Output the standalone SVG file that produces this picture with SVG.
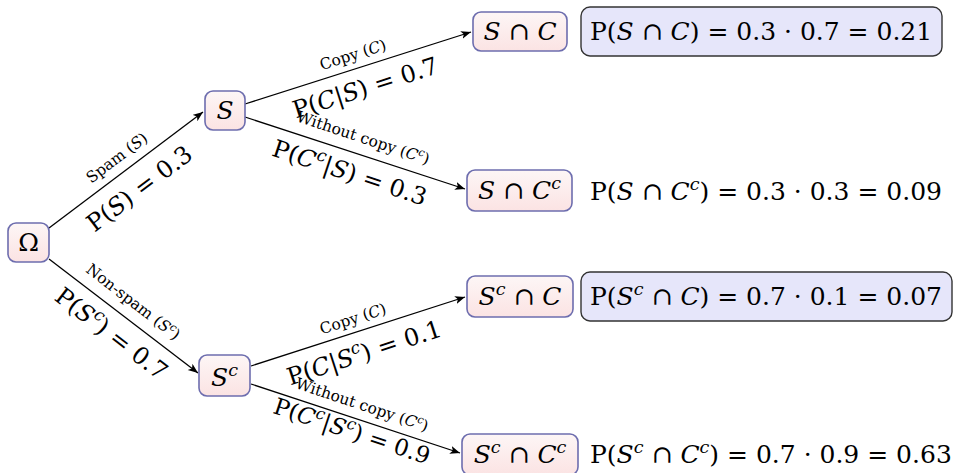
<svg xmlns="http://www.w3.org/2000/svg" width="955" height="473" viewBox="0 0 955 473">
<defs>
<linearGradient id="ng" x1="0" y1="0" x2="0" y2="1">
<stop offset="0" stop-color="#fdf6f6"/>
<stop offset="1" stop-color="#fbe3e3"/>
</linearGradient>
<marker id="arr" markerUnits="userSpaceOnUse" markerWidth="12" markerHeight="10" refX="10" refY="4" orient="auto">
<path d="M0,0 L10,4 L0,8 L2.5,4 Z" fill="#000"/>
</marker>
</defs>
<style>
text{font-family:"DejaVu Serif","Liberation Serif",serif;fill:#000}
.node rect{fill:url(#ng);stroke:#6d6dae;stroke-width:1.6}
.prob rect{fill:#e6e6fa;stroke:#333;stroke-width:1.4}
.nt{font-size:25px;text-anchor:middle}
.pt{font-size:25px}
.sm{font-size:15.5px;text-anchor:middle}
.lg{font-size:24px;text-anchor:middle}
.i{font-style:italic}
.sup{font-size:70%;font-style:italic}
#edges line{stroke:#000;stroke-width:1.3;marker-end:url(#arr)}
</style>

<g id="edges">
<line x1="49" y1="228" x2="203" y2="112"/>
<line x1="49" y1="259" x2="198" y2="373"/>
<line x1="245" y1="104" x2="471" y2="32"/>
<line x1="245" y1="117" x2="465" y2="189"/>
<line x1="251" y1="366" x2="465" y2="297"/>
<line x1="251" y1="384" x2="460" y2="453"/>
</g>

<g id="edge-labels">
<text class="sm" transform="translate(117,158) rotate(-37)" dy="5">Spam (<tspan class="i">S</tspan>)</text>
<text class="lg" transform="translate(139,188) rotate(-37)" dy="9">P(<tspan class="i">S</tspan>) = 0.3</text>
<text class="sm" transform="translate(133,302) rotate(37.6)" dy="5">Non-spam (<tspan class="i">S</tspan><tspan class="sup" baseline-shift="super">c</tspan>)</text>
<text class="lg" transform="translate(112,333) rotate(37.6)" dy="9">P(<tspan class="i">S</tspan><tspan class="sup" baseline-shift="super">c</tspan>) = 0.7</text>
<text class="sm" transform="translate(353,55) rotate(-17.7)" dy="5">Copy (<tspan class="i">C</tspan>)</text>
<text class="lg" transform="translate(365,87) rotate(-17.7)" dy="9">P(<tspan class="i">C</tspan>|<tspan class="i">S</tspan>) = 0.7</text>
<text class="sm" transform="translate(363,138) rotate(18.3)" dy="5">Without copy (<tspan class="i">C</tspan><tspan class="sup" baseline-shift="super">c</tspan>)</text>
<text class="lg" transform="translate(350,172) rotate(18.3)" dy="9">P(<tspan class="i">C</tspan><tspan class="sup" baseline-shift="super">c</tspan>|<tspan class="i">S</tspan>) = 0.3</text>
<text class="sm" transform="translate(353,319) rotate(-18)" dy="5">Copy (<tspan class="i">C</tspan>)</text>
<text class="lg" transform="translate(364,352) rotate(-18)" dy="9">P(<tspan class="i">C</tspan>|<tspan class="i">S</tspan><tspan class="sup" baseline-shift="super">c</tspan>) = 0.1</text>
<text class="sm" transform="translate(362,405) rotate(18.4)" dy="5">Without copy (<tspan class="i">C</tspan><tspan class="sup" baseline-shift="super">c</tspan>)</text>
<text class="lg" transform="translate(352,431) rotate(18.4)" dy="8" style="font-size:23px">P(<tspan class="i">C</tspan><tspan class="sup" baseline-shift="super">c</tspan>|<tspan class="i">S</tspan><tspan class="sup" baseline-shift="super">c</tspan>) = 0.9</text>
</g>

<g id="omega" class="node">
<rect x="8" y="223" width="41" height="39" rx="8"/>
<text class="nt" x="28.5" y="251">Ω</text>
</g>
<g id="s" class="node">
<rect x="205" y="91" width="40" height="39" rx="8"/>
<text class="nt i" x="225" y="119">S</text>
</g>
<g id="sc" class="node">
<rect x="199" y="355" width="51" height="41" rx="8"/>
<text class="nt" x="224.5" y="386"><tspan class="i">S</tspan><tspan class="sup" baseline-shift="super">c</tspan></text>
</g>
<g id="s-and-c" class="node">
<rect x="473" y="12" width="94" height="39" rx="8"/>
<text class="nt" x="520" y="40"><tspan class="i">S</tspan> ∩ <tspan class="i">C</tspan></text>
</g>
<g id="s-and-cc" class="node">
<rect x="467" y="170" width="105" height="41" rx="8"/>
<text class="nt" x="519.5" y="199"><tspan class="i">S</tspan> ∩ <tspan class="i">C</tspan><tspan class="sup" baseline-shift="super">c</tspan></text>
</g>
<g id="sc-and-c" class="node">
<rect x="467" y="276" width="106" height="41" rx="8"/>
<text class="nt" x="520" y="305"><tspan class="i">S</tspan><tspan class="sup" baseline-shift="super">c</tspan> ∩ <tspan class="i">C</tspan></text>
</g>
<g id="sc-and-cc" class="node">
<rect x="462" y="434" width="116" height="41" rx="8"/>
<text class="nt" x="520" y="463"><tspan class="i">S</tspan><tspan class="sup" baseline-shift="super">c</tspan> ∩ <tspan class="i">C</tspan><tspan class="sup" baseline-shift="super">c</tspan></text>
</g>

<g id="p-s-and-c" class="prob">
<rect x="581" y="7" width="361" height="49" rx="9"/>
<text class="pt" x="590" y="40">P(<tspan class="i">S</tspan> ∩ <tspan class="i">C</tspan>) = 0.3 · 0.7 = 0.21</text>
</g>
<g id="p-s-and-cc">
<text class="pt" x="590" y="200">P(<tspan class="i">S</tspan> ∩ <tspan class="i">C</tspan><tspan class="sup" baseline-shift="super">c</tspan>) = 0.3 · 0.3 = 0.09</text>
</g>
<g id="p-sc-and-c" class="prob">
<rect x="581" y="272" width="371" height="49" rx="9"/>
<text class="pt" x="590" y="305">P(<tspan class="i">S</tspan><tspan class="sup" baseline-shift="super">c</tspan> ∩ <tspan class="i">C</tspan>) = 0.7 · 0.1 = 0.07</text>
</g>
<g id="p-sc-and-cc">
<text class="pt" x="590" y="463">P(<tspan class="i">S</tspan><tspan class="sup" baseline-shift="super">c</tspan> ∩ <tspan class="i">C</tspan><tspan class="sup" baseline-shift="super">c</tspan>) = 0.7 · 0.9 = 0.63</text>
</g>
</svg>
